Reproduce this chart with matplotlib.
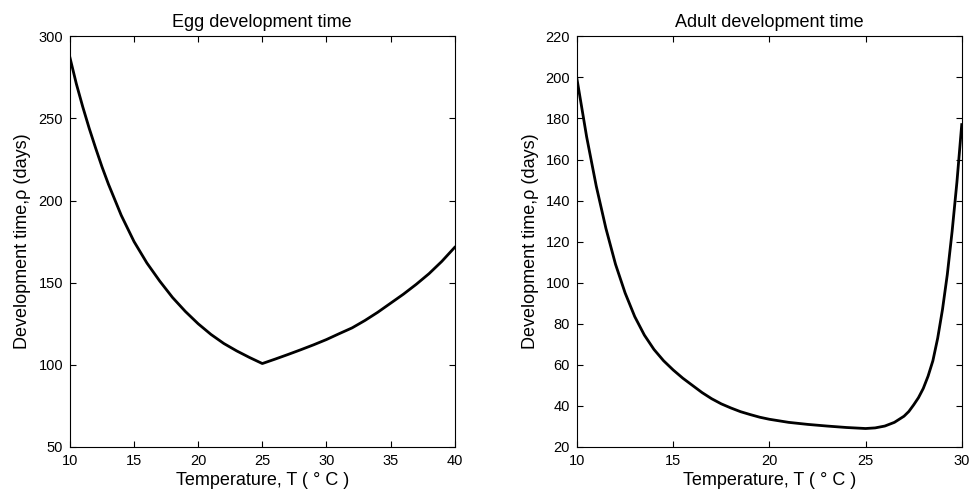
import matplotlib
matplotlib.use("Agg")
import matplotlib.pyplot as plt

plt.rcParams['font.family'] = ['Liberation Sans', 'DejaVu Sans']

# Egg development time
egg_temp = [10, 10.5, 11, 11.5, 12, 12.5, 13, 14, 15, 16, 17, 18, 19, 20, 21, 22, 23, 24, 25,
            26, 27, 28, 29, 30, 31, 32, 33, 34, 35, 36, 37, 38, 39, 40]
egg_days = [287, 271, 257, 244, 232, 220.5, 210, 191, 175, 162, 151, 141, 132.5, 125, 118.5, 113, 108.5, 104.5, 100.8,
            103.5, 106.3, 109.2, 112.2, 115.4, 119, 122.5, 127, 132, 137.5, 143, 149, 155.5, 163, 171.5]

# Adult development time
adult_temp = [10, 10.5, 11, 11.5, 12, 12.5, 13, 13.5, 14, 14.5, 15, 15.5, 16, 16.5, 17, 17.5, 18, 18.5,
              19, 19.5, 20, 21, 22, 23, 24, 25, 25.5, 26, 26.5, 27, 27.25, 27.5, 27.75, 28, 28.25,
              28.5, 28.75, 29, 29.25, 29.5, 29.75, 30]
adult_days = [199, 171, 147, 126.5, 109, 95, 83.5, 74.5, 67.5, 62, 57.5, 53.5, 50, 46.5, 43.5, 41, 39, 37.2,
              35.8, 34.5, 33.5, 32, 31, 30.2, 29.5, 29, 29.3, 30.2, 32, 35, 37.3, 40.5, 44, 48.5, 54.5,
              62, 73, 87, 104, 125, 149, 177]

panels = [
    ("Egg development time", egg_temp, egg_days, (10, 40), (50, 300), range(10, 41, 5), range(50, 301, 50)),
    ("Adult development time", adult_temp, adult_days, (10, 30), (20, 220), range(10, 31, 5), range(20, 221, 20)),
]

fig = plt.figure(figsize=(9.69, 4.96), dpi=100)
positions = [[0.0722, 0.0988, 0.397, 0.828], [0.5955, 0.0988, 0.397, 0.828]]

for pos, (title, x, y, xlim, ylim, xt, yt) in zip(positions, panels):
    ax = fig.add_axes(pos)
    ax.plot(x, y, color='black', linewidth=2.0, solid_joinstyle='round')
    ax.set_xlim(*xlim)
    ax.set_ylim(*ylim)
    ax.set_xticks(list(xt))
    ax.set_yticks(list(yt))
    ax.tick_params(direction='in', top=True, right=True, length=4, width=0.8,
                   labelsize=10.5, pad=5)
    ax.set_title(title, fontsize=13, pad=7)
    ax.set_xlabel("Temperature, T ( \u00b0 C )", fontsize=13, labelpad=3)
    ax.set_ylabel("Development time,\u03c1 (days)", fontsize=13, labelpad=5)
    for s in ax.spines.values():
        s.set_linewidth(0.8)

fig.savefig("out.png", dpi=100)
